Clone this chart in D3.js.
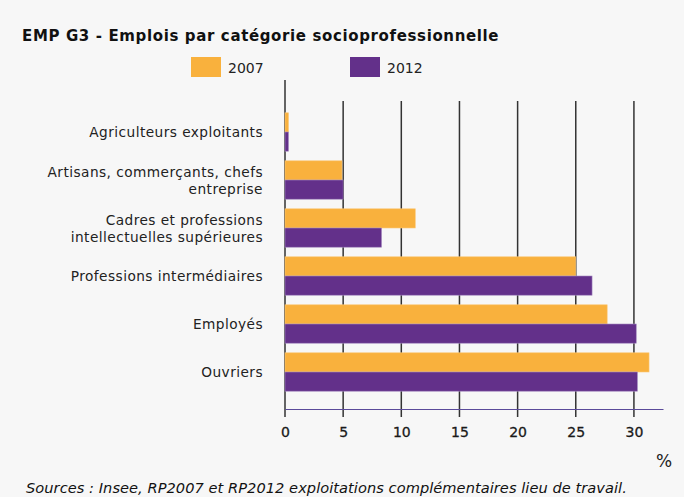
<!DOCTYPE html>
<html>
<head>
<meta charset="utf-8">
<script src="https://cdn.jsdelivr.net/npm/d3@7"></script>
<style>
  body { margin: 0; background: #f7f7f7; }
  svg { display: block; font-family: "DejaVu Sans", Verdana, sans-serif; }
</style>
</head>
<body>
<svg></svg>
<script>
// data
var categories = [
    "Agriculteurs exploitants",
    "Artisans, commerçants, chefs entreprise",
    "Cadres et professions intellectuelles supérieures",
    "Professions intermédiaires",
    "Employés",
    "Ouvriers"
];
var categoryLines = [
    ["Agriculteurs exploitants"],
    ["Artisans, commerçants, chefs", "entreprise"],
    ["Cadres et professions", "intellectuelles supérieures"],
    ["Professions intermédiaires"],
    ["Employés"],
    ["Ouvriers"]
];
var seriesNames = ["2007", "2012"];
var values2007 = [0.3, 4.9, 11.2, 25.0, 27.7, 31.3];
var values2012 = [0.3, 5.0, 8.3, 26.4, 30.2, 30.3];
var tickValues = [0, 5, 10, 15, 20, 25, 30];
var colors = ["#f9b13d", "#63308a"];

var svgWidth = 684, svgHeight = 497;
var svg = d3.select("svg")
    .attr("width", svgWidth)
    .attr("height", svgHeight);

svg.append("rect")
    .attr("width", svgWidth)
    .attr("height", svgHeight)
    .attr("fill", "#f7f7f7");

// title
svg.append("text")
    .attr("x", 22)
    .attr("y", 41)
    .attr("font-size", 15)
    .attr("font-weight", "bold")
    .attr("letter-spacing", 0.63)
    .attr("fill", "#111")
    .text("EMP G3 - Emplois par catégorie socioprofessionnelle");

// scales
var x = d3.scaleLinear().domain([0, 32.5]).range([285, 663]);
var y = d3.scaleBand().domain(categories).range([108, 396])
    .paddingInner(0.2).paddingOuter(0.1);
var ySub = d3.scaleBand().domain(seriesNames).range([0, y.bandwidth()]);

var axisY = 409;

// grid lines
svg.append("g")
    .selectAll("line")
    .data(tickValues)
    .enter()
    .append("line")
    .attr("x1", function (d) { return x(d); })
    .attr("x2", function (d) { return x(d); })
    .attr("y1", function (d) { return d === 0 ? 80 : 101; })
    .attr("y2", 417)
    .attr("stroke", "#333")
    .attr("stroke-width", 1.5);

// bars
var rows = categories.map(function (c, i) {
    return { cat: c, vals: [values2007[i], values2012[i]] };
});

var groups = svg.append("g")
    .selectAll("g")
    .data(rows)
    .enter()
    .append("g")
    .attr("transform", function (d) { return "translate(0," + y(d.cat) + ")"; });

groups.selectAll("rect")
    .data(function (d) {
        return d.vals.map(function (v, j) { return { key: seriesNames[j], value: v, idx: j }; });
    })
    .enter()
    .append("rect")
    .attr("x", x(0))
    .attr("y", function (d) { return ySub(d.key); })
    .attr("width", function (d) { return x(d.value) - x(0); })
    .attr("height", ySub.bandwidth())
    .attr("fill", function (d) { return colors[d.idx]; })
    .attr("stroke", function (d) { return d.idx === 0 ? "#fbc878" : "#a58bc0"; })
    .attr("stroke-width", 0.6);

// x axis line
var xAxis = d3.axisBottom(x).tickValues(tickValues).tickSize(0).tickPadding(18);
var gx = svg.append("g")
    .attr("transform", "translate(0," + axisY + ")")
    .call(xAxis);
gx.select(".domain").attr("stroke", "#5a4a9a").attr("stroke-width", 1.2);
gx.selectAll("text")
    .attr("font-size", 14)
    .attr("font-family", "DejaVu Sans, Verdana, sans-serif")
    .attr("fill", "#1a1a1a")
    .attr("stroke", "#1a1a1a")
    .attr("stroke-width", 0.3);

// category labels
var labels = svg.append("g")
    .selectAll("text")
    .data(categories)
    .enter()
    .append("text")
    .attr("text-anchor", "end")
    .attr("font-size", 13.7)
    .attr("letter-spacing", 0.45)
    .attr("fill", "#222")
    .attr("y", function (d) { return y(d) + y.bandwidth() / 2; });

labels.each(function (d, i) {
    var lines = categoryLines[i];
    var t = d3.select(this);
    lines.forEach(function (ln, k) {
        t.append("tspan")
            .attr("x", 263)
            .attr("dy", k === 0 ? (5 - (lines.length - 1) * 8.5) + "px" : "17px")
            .text(ln);
    });
});

// legend
var legend = svg.append("g")
    .selectAll("g")
    .data(seriesNames)
    .enter()
    .append("g")
    .attr("transform", function (d, i) { return "translate(" + (191 + i * 159) + ",57)"; });
legend.append("rect")
    .attr("width", 30)
    .attr("height", 20)
    .attr("fill", function (d, i) { return colors[i]; });
legend.append("text")
    .attr("x", 37)
    .attr("y", 15.5)
    .attr("font-size", 14)
    .attr("fill", "#222")
    .text(function (d) { return d; });

// unit
svg.append("text")
    .attr("x", 656)
    .attr("y", 467)
    .attr("font-size", 17)
    .attr("fill", "#222")
    .text("%");

// source
svg.append("text")
    .attr("x", 26)
    .attr("y", 493)
    .attr("font-size", 14.6)
    .attr("font-style", "italic")
    .attr("letter-spacing", 0.05)
    .attr("fill", "#111")
    .text("Sources : Insee, RP2007 et RP2012 exploitations complémentaires lieu de travail.");
</script>
</body>
</html>
